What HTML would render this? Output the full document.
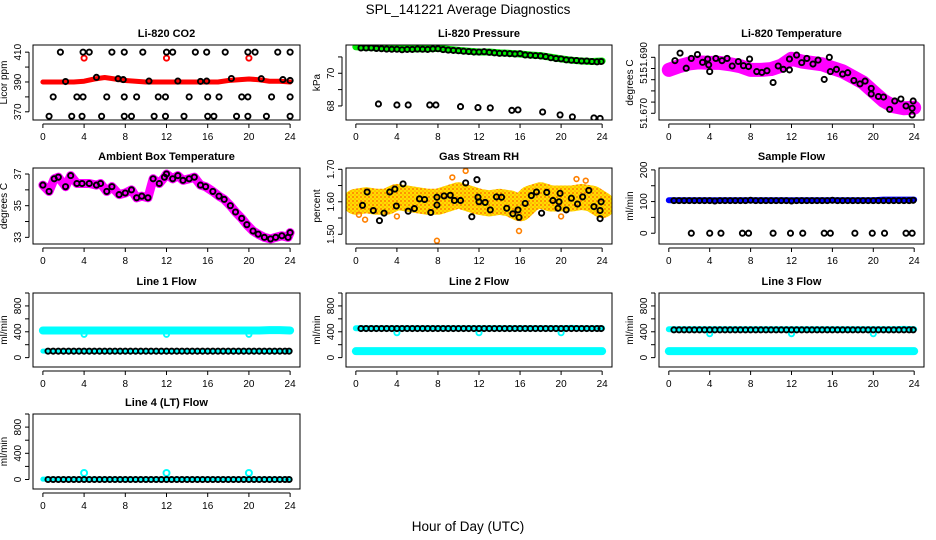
<!DOCTYPE html>
<html><head><meta charset="utf-8">
<style>
html,body{margin:0;padding:0;background:#fff;}
svg{display:block;font-family:"Liberation Sans",sans-serif;}
</style></head>
<body>
<svg id="chart" width="936" height="540" viewBox="0 0 936 540" xmlns="http://www.w3.org/2000/svg">
<defs>
<pattern id="rhpat" width="4" height="4" patternUnits="userSpaceOnUse">
<rect width="4" height="4" fill="#ffdd00"/>
<circle cx="1" cy="1" r="0.9" fill="#ff6000"/>
<circle cx="3" cy="3" r="0.8" fill="#ffa000"/>
</pattern>
</defs>
<text x="468" y="14" font-size="13.5" text-anchor="middle">SPL_141221  Average Diagnostics</text>
<text x="468" y="531" font-size="13.5" text-anchor="middle">Hour of Day (UTC)</text>
</svg>
<script>
// ---- shared data ----
const HOURS = [0.5,1.0,1.5,2.0,2.5,3.0,3.5,4.0,4.5,5.0,5.5,6.0,6.5,7.0,7.5,8.0,8.5,9.0,9.5,10.0,10.5,11.0,11.5,12.0,12.5,13.0,13.5,14.0,14.5,15.0,15.5,16.0,16.5,17.0,17.5,18.0,18.5,19.0,19.5,20.0,20.5,21.0,21.5,22.0,22.5,23.0,23.5,23.9];
const BAND_H = [0,1,2,3,4,5,6,7,8,9,10,11,12,13,14,15,16,17,18,19,20,21,22,23,24];
const X_TICKS = [0,4,8,12,16,20,24];
const OUTLIER_H = [4,12,20];

// CO2
const CO2_BAND = [390,390,390,390,390.5,392,393,392,391,390.5,390,390,390,390,390,390,390,390,391,391.5,392,391.5,390.5,390.5,390];
const CO2_RED_OUT = [406,406,406];
const CO2_TOP_H = [1.7,3.9,4.5,6.7,7.9,9.7,12,12.6,14.8,15.9,17.7,19.9,20.6,22.8,24];
const CO2_MID_H = [1.0,3.3,3.9,6.2,7.9,9.1,11.2,11.9,14.2,16.0,17.1,19.3,19.9,22.2,24];
const CO2_BOT_H = [0.6,2.8,3.8,5.7,7.9,8.6,10.8,11.9,13.7,16.0,16.6,18.8,19.9,21.7,24];
const CO2_ON_H = [2.2,5.2,7.3,7.8,10.3,13.1,15.3,15.9,18.3,21.2,23.3,24];
const CO2_ON_V = [390.3,393.1,392.2,391.6,390.6,390.6,390.4,390.6,392.3,392.2,391.6,391];

// Pressure
const P_BAND = [71.62,71.58,71.57,71.55,71.52,71.50,71.49,71.50,71.52,71.46,71.40,71.35,71.30,71.30,71.25,71.22,71.18,71.12,71.08,70.98,70.88,70.80,70.75,70.72,70.75];
const P_PTS = [71.55,71.55,71.55,71.52,71.50,71.48,71.47,71.47,71.44,71.46,71.46,71.48,71.47,71.46,71.49,71.50,71.45,71.42,71.40,71.38,71.35,71.33,71.30,71.30,71.32,71.28,71.25,71.22,71.22,71.20,71.18,71.20,71.12,71.10,71.08,71.06,71.02,70.95,70.90,70.88,70.82,70.80,70.78,70.75,70.75,70.72,70.70,70.72];
const LOW_H = [2.2,4.0,5.1,7.2,7.8,10.2,11.9,13.1,15.2,15.8,18.2,19.9,21.1,23.2,23.8];
const P_LOW = [68.12,68.06,68.06,68.06,68.06,67.96,67.90,67.88,67.73,67.76,67.63,67.45,67.33,67.27,67.24];

// Li-820 temperature
const T8_BAND = [51.6855,51.6868,51.6878,51.6882,51.6880,51.6880,51.6875,51.6868,51.6855,51.6855,51.6858,51.6870,51.6895,51.6885,51.6880,51.6875,51.6862,51.6850,51.6830,51.6810,51.6777,51.6745,51.6725,51.6718,51.6720];
const T8_H = [0.6,1.1,1.7,2.2,2.8,3.3,3.8,3.9,4.0,4.6,5.2,5.7,6.2,6.8,7.3,7.8,7.9,8.6,9.1,9.6,10.2,10.7,11.2,11.8,11.8,12.5,13.0,13.5,14.1,14.6,15.2,15.7,15.8,16.4,17.0,17.5,18.1,18.7,19.2,19.8,19.8,20.5,21.0,21.6,22.1,22.7,23.2,23.8,23.9,23.8];
const T8_V = [51.6888,51.6915,51.6861,51.6896,51.6910,51.6882,51.6894,51.6873,51.6849,51.6896,51.6888,51.6896,51.6869,51.6885,51.6870,51.6867,51.6894,51.6849,51.6846,51.6852,51.6810,51.6869,51.6857,51.6855,51.6894,51.6908,51.6881,51.6896,51.6876,51.6890,51.6821,51.6900,51.6849,51.6857,51.6840,51.6845,51.6817,51.6805,51.6815,51.6789,51.6769,51.6760,51.6758,51.6714,51.6744,51.6751,51.6726,51.6718,51.6744,51.6694];

// Ambient box temperature
const AMB_H = [0,0.6,1.1,1.5,2.2,2.7,3.3,3.8,4.5,5.2,5.6,6.2,6.7,7.4,8.0,8.6,9.1,9.6,10.2,10.7,11.3,11.8,12.0,12.6,13.1,13.6,14.2,14.7,15.3,15.8,16.5,17.1,17.6,18.2,18.7,19.3,19.8,20.4,20.9,21.5,22.1,22.6,23.2,23.8,24];
const AMB_V = [36.3,35.9,36.7,36.8,36.2,36.9,36.4,36.4,36.4,36.3,36.4,35.9,36.2,35.7,35.8,36.0,35.5,35.6,35.5,36.7,36.4,36.8,37.0,36.7,36.9,36.6,36.7,36.8,36.3,36.2,35.9,35.6,35.4,35.0,34.6,34.2,33.8,33.4,33.2,33.0,32.9,33.0,33.1,33.0,33.3];

// Gas stream RH
const RH_BAND = [1.600,1.605,1.600,1.600,1.615,1.610,1.605,1.600,1.600,1.610,1.620,1.610,1.600,1.595,1.600,1.595,1.580,1.610,1.620,1.610,1.610,1.610,1.615,1.610,1.590];
const RH_OUT_H = [10.7,7.9,15.9,0.3,4.0,9.4,20.0,21.5,22.4,0.9];
const RH_OUT_V = [1.695,1.480,1.510,1.560,1.555,1.675,1.555,1.670,1.665,1.545];
const RH_H = [0.65,1.1,1.7,2.3,2.75,3.3,3.8,3.95,4.6,5.1,5.7,6.2,6.7,7.3,7.9,7.9,8.6,9.2,9.6,10.2,10.7,11.3,11.8,11.9,12.0,12.6,13.1,13.7,14.2,14.7,15.3,15.8,15.9,16.5,17.1,17.6,18.1,18.6,19.2,19.7,19.8,19.9,20.5,21.0,21.6,22.1,22.7,23.2,23.8,23.8,23.9];
const RH_V = [1.589,1.630,1.573,1.542,1.565,1.630,1.639,1.587,1.655,1.571,1.579,1.609,1.607,1.567,1.590,1.614,1.618,1.620,1.604,1.604,1.658,1.554,1.668,1.614,1.600,1.598,1.575,1.615,1.614,1.580,1.563,1.575,1.552,1.595,1.619,1.630,1.565,1.629,1.604,1.580,1.600,1.626,1.575,1.611,1.593,1.615,1.635,1.585,1.573,1.548,1.600];

// Sample flow
const SF_BAND = [104,104,104,104,104,104,104,104,104,104,104,104,104,104,104,104,104,104,104,104,104,106,106,106,106];
const SF_PTS = [103,103,103,103,103,103,103,103,102,103,103,103,103,103,103,104,103,103,103,103,103,103,103,102,103,103,103,103,103,103,103,104,103,103,103,103,103,103,103,103,103,103,103,103,103,103,103,104];
const SF_LOW = [0,0,0,0,0,0,0,0,0,0,0,0,0,0,0];

// Line flows
const L1_HIGH = [420,420,420,420,420,420,420,420,420,420,420,420,420,420,420,420,420,420,420,420,420,420,425,425,420];
const L1_LOW_BAND = [100,100,100,100,100,100,100,100,100,100,100,100,100,100,100,100,100,100,100,100,100,100,100,100,100];
const L1_BLACK = [100,100,100,100,100,100,100,100,100,100,100,100,100,100,100,100,100,100,100,100,100,100,100,100,100,100,100,100,100,100,100,100,100,100,100,100,100,100,100,100,100,100,100,100,100,100,100,100];
const L1_DIP = [360,360,360];
const L2_HIGH = [455,455,455,455,455,455,455,455,455,455,455,455,455,455,455,455,455,455,455,455,455,460,455,455,455];
const L2_BLACK = [450,450,450,450,450,450,450,450,450,450,450,450,450,450,450,450,450,450,450,450,450,450,450,450,450,450,450,450,450,450,450,450,450,450,450,450,450,450,450,450,450,450,450,450,450,450,450,450];
const L2_DIP = [385,385,385];
const L3_HIGH = [440,440,440,440,440,440,440,440,440,440,440,440,440,440,440,440,440,440,440,440,440,440,440,445,440];
const L3_BLACK = [430,430,430,430,430,430,430,430,430,430,430,430,430,430,430,430,430,430,430,430,430,430,430,430,430,430,430,430,430,430,430,430,430,430,430,430,430,430,430,430,430,430,430,430,430,430,430,430];
const L3_DIP = [370,370,370];
const L4_BAND = [5,5,5,5,5,5,5,5,5,5,5,5,5,5,5,5,5,5,5,5,5,5,5,5,5];
const L4_BLACK = [0,0,0,0,0,0,0,0,0,0,0,0,0,0,0,0,0,0,0,0,0,0,0,0,0,0,0,0,0,0,0,0,0,0,0,0,0,0,0,0,0,0,0,0,0,0,0,0];
const L4_OUT = [100,100,100];

// ---- drawing ----
const NS = "http://www.w3.org/2000/svg";
const svg = document.getElementById("chart");
function mk(tag, parent){ const e=document.createElementNS(NS,tag); parent.appendChild(e); return e; }

const COLS = [[33,300],[346,612],[659,924]];
const ROWS = [[45,120],[168,244],[293,367],[414,489]];
let clipN = 0;

function panel(col,row,title,ylab,ylim,yticks,ylabels){
  const [L,R]=COLS[col], [T,B]=ROWS[row];
  const g=mk("g",svg);
  
  
  const xs=h=>L+(h+0.96)/25.92*(R-L);
  const ys=v=>B-(v-ylim[0])/(ylim[1]-ylim[0])*(B-T);
  const t=mk("text",g);
  
  
  t.setAttribute("x",(L+R)/2); t.setAttribute("y",T-8); t.setAttribute("font-size","11"); t.setAttribute("font-weight","bold"); t.setAttribute("text-anchor","middle"); t.textContent=title;
  const yl=mk("text",g);
  
  
  const ylx=L-26;
  yl.setAttribute("transform",`translate(${ylx},${(T+B)/2}) rotate(-90)`); yl.setAttribute("font-size","10"); yl.setAttribute("text-anchor","middle"); yl.textContent=ylab;
  const xa=mk("g",g);
  
  
  const xl=mk("line",xa); xl.setAttribute("x1",xs(0)); xl.setAttribute("x2",xs(24)); xl.setAttribute("y1",B+4); xl.setAttribute("y2",B+4); xl.setAttribute("stroke","#000");
  X_TICKS.forEach(v=>{
    const tk=mk("line",xa); tk.setAttribute("x1",xs(v)); tk.setAttribute("x2",xs(v)); tk.setAttribute("y1",B+4); tk.setAttribute("y2",B+8); tk.setAttribute("stroke","#000");
    const tx=mk("text",xa);
    
    
    tx.setAttribute("x",xs(v)); tx.setAttribute("y",B+20); tx.setAttribute("font-size","10"); tx.setAttribute("text-anchor","middle"); tx.textContent=v;
  });
  const ya=mk("g",g);
  
  
  const yax=L-4;
  const yline=mk("line",ya); yline.setAttribute("x1",yax); yline.setAttribute("x2",yax); yline.setAttribute("y1",ys(yticks[0])); yline.setAttribute("y2",ys(yticks[yticks.length-1])); yline.setAttribute("stroke","#000");
  yticks.forEach(v=>{
    const tk=mk("line",ya); tk.setAttribute("x1",yax-4); tk.setAttribute("x2",yax); tk.setAttribute("y1",ys(v)); tk.setAttribute("y2",ys(v)); tk.setAttribute("stroke","#000");
  });
  ylabels.forEach(([v,s])=>{
    const tx=mk("text",ya);
    
    
    tx.setAttribute("transform",`translate(${yax-8},${ys(v)}) rotate(-90)`); tx.setAttribute("font-size","10"); tx.setAttribute("text-anchor","middle"); tx.textContent=s;
  });
  const id="clip"+(clipN++);
  const cp=mk("clipPath",g); cp.setAttribute("id",id);
  const cr=mk("rect",cp); cr.setAttribute("x",L); cr.setAttribute("y",T); cr.setAttribute("width",R-L); cr.setAttribute("height",B-T);
  const plot=mk("g",g); plot.setAttribute("clip-path",`url(#${id})`);
  
  
  const box=mk("rect",g);
  
  
  box.setAttribute("x",L); box.setAttribute("y",T); box.setAttribute("width",R-L); box.setAttribute("height",B-T); box.setAttribute("fill","none"); box.setAttribute("stroke","#000");
  return {xs,ys,plot};
}

function band(p,name,hs,vs,color,w){
  const pl=mk("polyline",p.plot);
  
  
  pl.setAttribute("points",hs.map((h,i)=>p.xs(h)+","+p.ys(vs[i])).join(" "));
  pl.setAttribute("fill","none"); pl.setAttribute("stroke",color); pl.setAttribute("stroke-width",w); pl.setAttribute("stroke-linejoin","round"); pl.setAttribute("stroke-linecap","round");
}
function pts(p,name,hs,vs,color,r,sw){
  const gg=mk("g",p.plot);
  
  
  hs.forEach((h,i)=>{
    const c=mk("circle",gg);
    
    
    c.setAttribute("cx",p.xs(h)); c.setAttribute("cy",p.ys(vs[i])); c.setAttribute("r",r||2.6);
    c.setAttribute("fill","none"); c.setAttribute("stroke",color||"#000"); c.setAttribute("stroke-width",sw||1.9);
  });
}
function constArr(n,v){ const a=[]; for(let i=0;i<n;i++) a.push(v); return a; }

let p=panel(0,0,"Li-820 CO2","Licor ppm",[364.5,414.8],[370,380,390,400,410],[[370,"370"],[390,"390"],[410,"410"]]);
band(p,"co2-band",BAND_H,CO2_BAND,"#ff0000",5);
pts(p,"co2-red-outliers",OUTLIER_H,CO2_RED_OUT,"#ff0000");
pts(p,"co2-top-points",CO2_TOP_H,constArr(CO2_TOP_H.length,410));
pts(p,"co2-mid-points",CO2_MID_H,constArr(CO2_MID_H.length,380));
pts(p,"co2-bottom-points",CO2_BOT_H,constArr(CO2_BOT_H.length,367));
pts(p,"co2-avg-points",CO2_ON_H,CO2_ON_V);

p=panel(1,0,"Li-820 Pressure","kPa",[67.14,71.73],[68,69,70,71],[[68,"68"],[70,"70"]]);
band(p,"pressure-band",BAND_H,P_BAND,"#00ee00",7);
pts(p,"pressure-avg-points",HOURS,P_PTS);
pts(p,"pressure-low-points",LOW_H,P_LOW);

p=panel(2,0,"Li-820 Temperature","degrees C",[51.6676,51.6944],[51.670,51.674,51.678,51.682,51.686,51.690],[[51.690,"51.690"],[51.683,"51."],[51.670,"51.670"]]);
band(p,"temp820-band",BAND_H,T8_BAND,"#ff00ff",14);
pts(p,"temp820-avg-points",T8_H,T8_V);

p=panel(0,1,"Ambient Box Temperature","degrees C",[32.58,37.38],[33,34,35,36,37],[[33,"33"],[35,"35"],[37,"37"]]);
band(p,"ambient-band",AMB_H,AMB_V,"#ff00ff",9);
pts(p,"ambient-avg-points",AMB_H,AMB_V);

p=panel(1,1,"Gas Stream RH","percent",[1.470,1.704],[1.50,1.55,1.60,1.65,1.70],[[1.50,"1.50"],[1.60,"1.60"],[1.70,"1.70"]]);
band(p,"rh-band",BAND_H,RH_BAND,"url(#rhpat)",26);
pts(p,"rh-outliers",RH_OUT_H,RH_OUT_V,"#ff8000",2.4,1.6);
pts(p,"rh-avg-points",RH_H,RH_V);

p=panel(2,1,"Sample Flow","ml/min",[-34,206],[0,50,100,150,200],[[0,"0"],[100,"100"],[200,"200"]]);
band(p,"sample-flow-band",BAND_H,SF_BAND,"#0000ff",6);
pts(p,"sample-flow-points",HOURS,SF_PTS);
pts(p,"sample-flow-zero-points",LOW_H,SF_LOW);

const FY=[-145,1000], FT=[0,200,400,600,800,1000], FL=[[0,"0"],[400,"400"],[800,"800"]];
p=panel(0,2,"Line 1 Flow","ml/min",FY,FT,FL);
band(p,"line1-high-band",BAND_H,L1_HIGH,"#00ffff",8);
band(p,"line1-low-band",BAND_H,L1_LOW_BAND,"#00ffff",5);
pts(p,"line1-dips",OUTLIER_H,L1_DIP,"#00ffff");
pts(p,"line1-points",HOURS,L1_BLACK);
p=panel(1,2,"Line 2 Flow","ml/min",FY,FT,FL);
band(p,"line2-high-band",BAND_H,L2_HIGH,"#00ffff",6);
band(p,"line2-low-band",BAND_H,L1_LOW_BAND,"#00ffff",8);
pts(p,"line2-dips",OUTLIER_H,L2_DIP,"#00ffff");
pts(p,"line2-points",HOURS,L2_BLACK);
p=panel(2,2,"Line 3 Flow","ml/min",FY,FT,FL);
band(p,"line3-high-band",BAND_H,L3_HIGH,"#00ffff",6);
band(p,"line3-low-band",BAND_H,L1_LOW_BAND,"#00ffff",8);
pts(p,"line3-dips",OUTLIER_H,L3_DIP,"#00ffff");
pts(p,"line3-points",HOURS,L3_BLACK);
p=panel(0,3,"Line 4 (LT) Flow","ml/min",FY,FT,FL);
band(p,"line4-band",BAND_H,L4_BAND,"#00ffff",5);
pts(p,"line4-outliers",OUTLIER_H,L4_OUT,"#00ffff",3,2);
pts(p,"line4-points",HOURS,L4_BLACK);
</script>
</body></html>
